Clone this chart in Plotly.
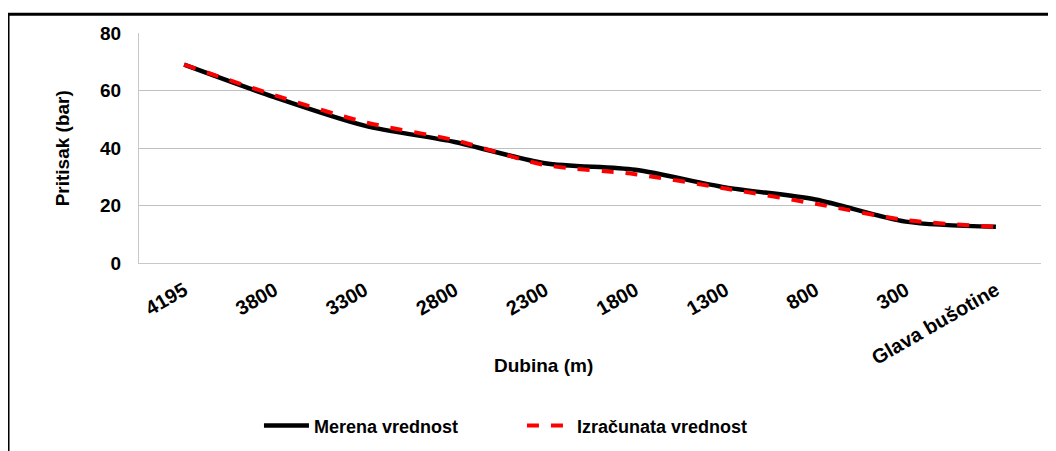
import plotly.graph_objects as go

# dubina (m) -> pritisak (bar)
dubina = ["4195", "3800", "3300", "2800", "2300", "1800", "1300", "800", "300", "Glava bušotine"]
merena = [69.0, 57.7, 47.8, 42.1, 34.7, 32.4, 26.3, 22.1, 14.4, 12.6]
izracunata = [69.0, 58.4, 49.0, 42.7, 34.1, 30.9, 25.9, 20.6, 14.9, 12.6]
y_ticks = [0, 20, 40, 60, 80]

FONT = "Liberation Sans, Arial, sans-serif"

fig = go.Figure()
fig.add_trace(go.Scatter(x=dubina, y=merena, name="<b>Merena vrednost</b>", mode="lines",
                         line=dict(color="black", width=4.5, shape="spline", smoothing=0.8)))
fig.add_trace(go.Scatter(x=dubina, y=izracunata, name="<b>Izračunata vrednost</b>", mode="lines",
                         line=dict(color="#ff0000", width=4, dash="dash", shape="spline", smoothing=0.8)))

# stranica ima 8px margine, pa je sve pomereno
fig.update_layout(
    width=1040, height=443,
    margin=dict(l=131, r=7, t=25, b=185),
    paper_bgcolor="white", plot_bgcolor="white",
    font=dict(family=FONT, color="black"),
    showlegend=True,
    legend=dict(orientation="h", x=0.133, xanchor="left", y=-0.708, yanchor="middle",
                font=dict(size=18, family=FONT), itemwidth=45, entrywidth=203,
                bgcolor="rgba(0,0,0,0)"),
)

fig.update_xaxes(
    type="category", range=[-0.5, 9.5], tickangle=-30,
    tickvals=dubina, ticktext=["<b>%s</b>" % d for d in dubina],
    tickfont=dict(size=20, family=FONT), ticklabelstandoff=7,
    showgrid=False, showline=True, linecolor="#c8c8c8", linewidth=1,
    ticks="", automargin=False,
)
fig.update_yaxes(
    range=[0, 80], tickvals=y_ticks, ticktext=["<b>%d</b>" % v for v in y_ticks],
    tickfont=dict(size=19, family=FONT), ticklabelstandoff=13,
    showgrid=True, gridcolor="#c0c0c0", gridwidth=1,
    zeroline=True, zerolinecolor="#c8c8c8",
    showline=True, linecolor="#c8c8c8", linewidth=1, ticks="", automargin=False,
)

# naslovi osa
fig.add_annotation(text="<b>Dubina (m)</b>", x=0.448, y=-0.446, xref="paper", yref="paper",
                   showarrow=False, font=dict(size=19, family=FONT), xanchor="center", yanchor="middle")
fig.add_annotation(text="<b>Pritisak (bar)</b>", x=-0.085, y=0.5, xref="paper", yref="paper",
                   showarrow=False, textangle=-90, font=dict(size=19, family=FONT),
                   xanchor="center", yanchor="middle")

# okvir grafika
fig.add_shape(type="rect", xref="paper", yref="paper", x0=-0.1452, x1=1.2, y0=-1.0, y1=1.0815,
              line=dict(color="black", width=3), layer="below")

fig.write_html("out.html")
